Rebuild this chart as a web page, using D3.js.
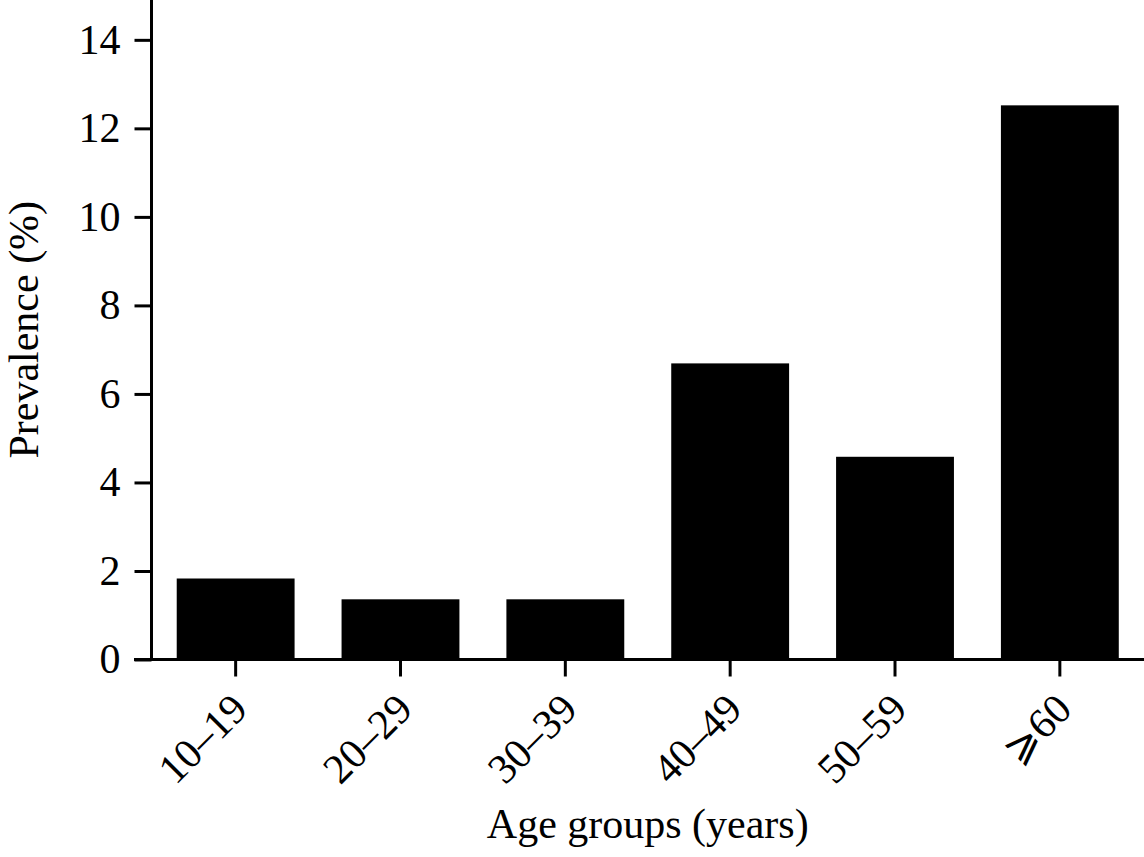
<!DOCTYPE html>
<html>
<head>
<meta charset="utf-8">
<script src="https://cdn.jsdelivr.net/npm/d3@7"></script>
<style>
  html, body { margin: 0; padding: 0; background: #fff; }
  svg { display: block; }
  text { font-family: "Liberation Serif", "DejaVu Serif", serif; fill: #000; }
</style>
</head>
<body>
<svg id="chart" width="1144" height="857"></svg>
<script>
const categories = ["10\u201319", "20\u201329", "30\u201339", "40\u201349", "50\u201359", "\u2A7E60"];
const values = [1.83, 1.36, 1.36, 6.69, 4.58, 12.52];
const yTicks = [0, 2, 4, 6, 8, 10, 12, 14];
const xTitle = "Age groups (years)";
const yTitle = "Prevalence (%)";

const svg = d3.select("#chart");
const x0 = 151.5, x1 = 1144, yBase = 659.5;

const x = d3.scaleBand().domain(categories).range([x0, x1])
  .paddingInner(0.285).paddingOuter(0.153);
const y = d3.scaleLinear().domain([0, 14.9]).range([yBase, 0]);

// bars
svg.append("g").selectAll("rect").data(values).join("rect")
  .attr("x", (d, i) => x(categories[i]))
  .attr("width", x.bandwidth())
  .attr("y", d => y(d))
  .attr("height", d => y(0) - y(d))
  .attr("fill", "#000");

// y axis
const gy = svg.append("g").attr("transform", `translate(${x0},0)`)
  .call(d3.axisLeft(y).tickValues(yTicks).tickSize(17).tickSizeOuter(0).tickPadding(14));
gy.select(".domain").remove();
gy.selectAll(".tick line").attr("stroke", "#000").attr("stroke-width", 3);
gy.selectAll(".tick text").attr("font-size", 42).attr("font-family", "Liberation Serif").attr("fill", "#000");
svg.append("line").attr("x1", x0).attr("x2", x0).attr("y1", 0).attr("y2", yBase + 1.5)
  .attr("stroke", "#000").attr("stroke-width", 3);

// x axis
const gx = svg.append("g").attr("transform", `translate(0,${yBase})`)
  .call(d3.axisBottom(x).tickSize(17).tickSizeOuter(0));
gx.select(".domain").remove();
gx.selectAll(".tick line").attr("stroke", "#000").attr("stroke-width", 3);
gx.selectAll(".tick text")
  .attr("font-size", 42).attr("font-family", "Liberation Serif").attr("fill", "#000")
  .attr("x", 0).attr("y", 0).attr("dy", 0)
  .attr("text-anchor", "end")
  .attr("transform", "translate(14,52) rotate(-45)");
svg.append("line").attr("x1", 134).attr("x2", x1).attr("y1", yBase).attr("y2", yBase)
  .attr("stroke", "#000").attr("stroke-width", 3);

// titles
svg.append("text").attr("x", (x0 + x1) / 2).attr("y", 838)
  .attr("text-anchor", "middle").attr("font-size", 42).text(xTitle);
svg.append("text").attr("transform", `translate(38,${yBase / 2}) rotate(-90)`)
  .attr("text-anchor", "middle").attr("font-size", 42).text(yTitle);
</script>
</body>
</html>
